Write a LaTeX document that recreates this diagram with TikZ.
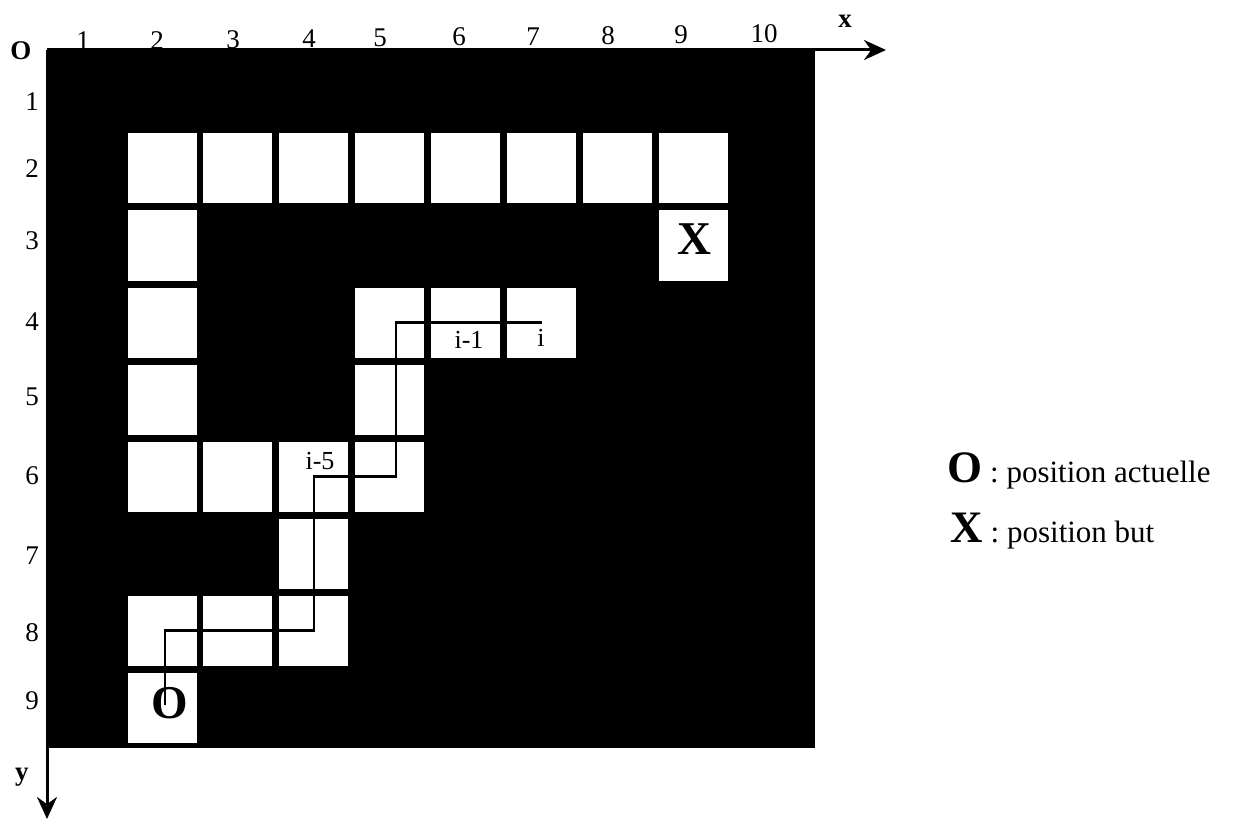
\documentclass[tikz,border=0pt]{standalone}
\usepackage{fontspec}
\setmainfont{Liberation Serif}
\usetikzlibrary{arrows.meta}
\begin{document}
\begin{tikzpicture}[x=1pt,y=-1pt,
  cell/.style={fill=white,minimum width=69pt,minimum height=70pt,inner sep=0pt,outer sep=0pt},
  axnum/.style={font=\fontsize{27}{27}\selectfont,inner sep=0pt,anchor=base},
  rownum/.style={font=\fontsize{27}{27}\selectfont,inner sep=0pt},
  axname/.style={font=\bfseries\fontsize{27}{27}\selectfont,inner sep=0pt},
  big/.style={font=\bfseries\fontsize{47}{47}\selectfont,inner sep=0pt},
  idx/.style={font=\fontsize{26}{26}\selectfont,inner sep=0pt},
  legend/.style={inner sep=0pt,anchor=base west},
  axis/.style={line width=3pt,-{Stealth[length=22pt,width=20pt]}},
  route/.style={line width=2.5pt}
]
\useasboundingbox (0,0) rectangle (1242,821);
% black board
\fill[black] (46,50) rectangle (815,748);
% white cells
\foreach \c/\r in {2/2,3/2,4/2,5/2,6/2,7/2,8/2,9/2,
                   2/3,9/3,
                   2/4,5/4,6/4,7/4,
                   2/5,5/5,
                   2/6,3/6,4/6,5/6,
                   4/7,
                   2/8,3/8,4/8,
                   2/9}
  \node[cell] (c\c-\r) at ({162+75.9*(\c-2)},{168.5+77*(\r-2)}) {};
% axes
\coordinate (orig) at (47,50);
\coordinate (xend) at (886,50);
\coordinate (yend) at (47,819);
\draw[axis] (orig) -- (xend);
\draw[axis] (orig) -- (yend);
\node[axname] (lblO) at (21,51) {O};
\node[axname,anchor=base] (lblx) at (845,28) {x};
\node[axname,anchor=base] (lbly) at (22,780) {y};
% column numbers
\foreach \i/\x in {1/83,2/157,3/233,4/309,5/380,6/459,7/533,8/608,9/681,10/764}
  \node[axnum] (col\i) at (\x,{50-0.8*(\i-1)}) {\i};
% row numbers
\foreach \i/\y in {1/102,2/169,3/241,4/322,5/397,6/476,7/556,8/633,9/701}
  \node[rownum] (row\i) at (32,\y) {\i};
% start and goal
\node[big] (goal) at (694,239) {X};
\node[big] (start) at (170,703) {O};
% route
\draw[route] (165,705) -- (c2-8.center -| 165,0) -- (c4-8.center) -- (c4-6.center) -- (c5-6.center -| 396,0) -- (c5-4.center -| 396,0) -- (c7-4.center);
% index labels
\node[idx] (im5) at (320,461) {i-5};
\node[idx] (im1) at (469,340) {i-1};
\node[idx] (ii) at (541,338) {i};
% legend
\node[legend] (leg1) at (947,482) {{\bfseries\fontsize{45}{45}\selectfont O}\hspace{8pt}{\fontsize{31}{31}\selectfont: position actuelle}};
\node[legend] (leg2) at (950,542) {{\bfseries\fontsize{45}{45}\selectfont X}\hspace{8pt}{\fontsize{31}{31}\selectfont: position but}};
\end{tikzpicture}
\end{document}
